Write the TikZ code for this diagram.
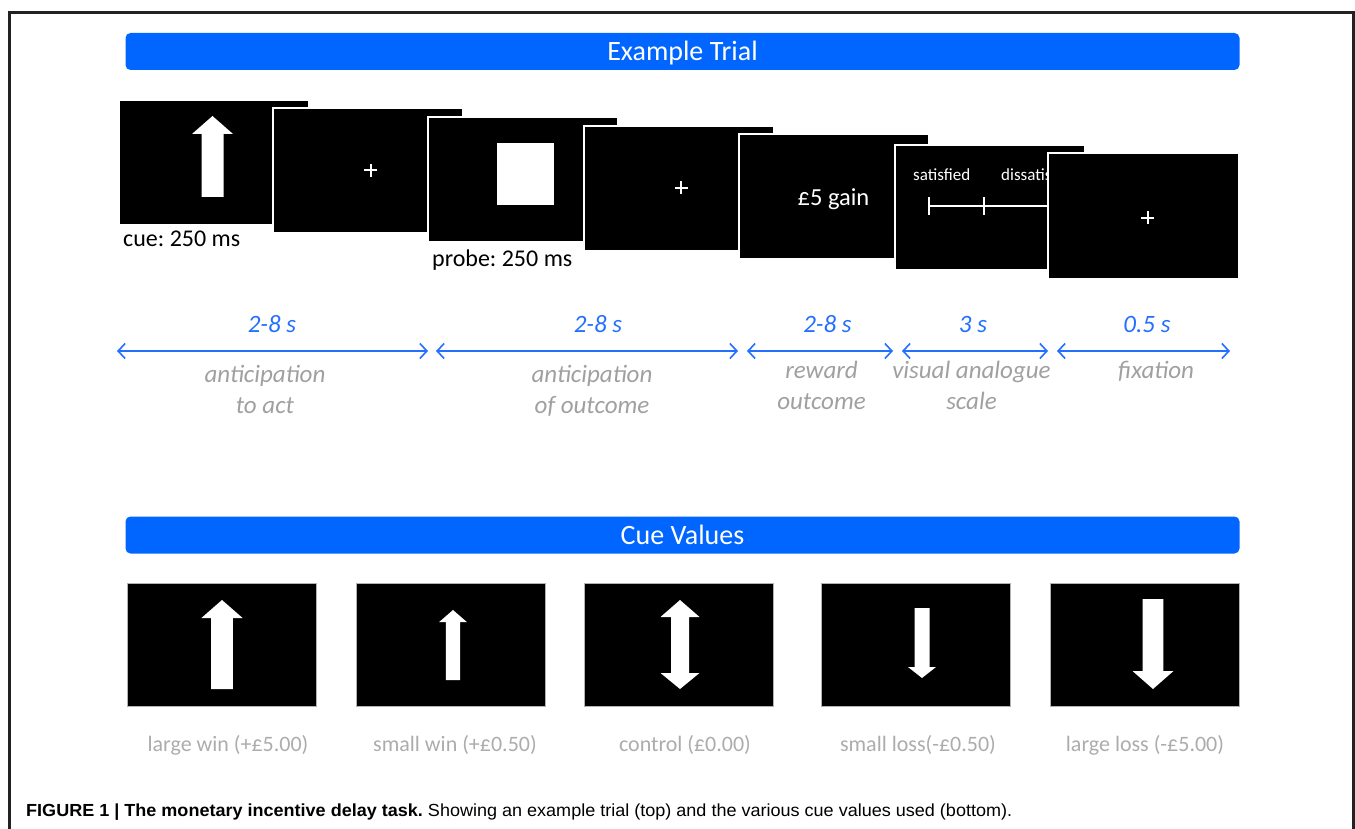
\documentclass[tikz,border=0pt]{standalone}
\usepackage{fontspec}
\usepackage{graphicx}
\setmainfont{Carlito}
\newfontfamily\capfont{Liberation Sans}
\usetikzlibrary{arrows.meta}
\definecolor{mblue}{RGB}{0,102,255}
\definecolor{tblue}{RGB}{35,112,255}
\definecolor{lgray}{RGB}{160,160,160}
\definecolor{cgray}{RGB}{172,172,172}
\definecolor{framecol}{RGB}{34,34,34}
\newcommand\arrowshape[6]{% cx, tip, base, end, headhalf, shafthalf
  \fill[white] ({#1},{#2}) -- ({#1+#5},{#3}) -- ({#1+#6},{#3}) -- ({#1+#6},{#4})
    -- ({#1-#6},{#4}) -- ({#1-#6},{#3}) -- ({#1-#5},{#3}) -- cycle;}
\newcommand\plussign[2]{\draw[white,line width=2pt] ({#1-6.5},{#2}) -- ({#1+6.5},{#2}) ({#1},{#2-6.5}) -- ({#1},{#2+6.5});}
\newsavebox\capbox
\frenchspacing
\begin{document}
\sbox\capbox{\capfont\fontsize{17.5}{20}\selectfont\textbf{FIGURE 1 | The monetary incentive delay task.} Showing an example trial (top) and the various cue values used (bottom).}
\begin{tikzpicture}[x=1pt,y=-1pt,
  banner/.style={fill=mblue,rounded corners=5pt,minimum width=1114pt,minimum height=37pt,inner sep=0pt,text=white,font=\fontsize{28}{30}\selectfont},
  tscreen/.style={fill=black,draw=white,line width=2pt,anchor=north west,minimum width=190pt,minimum height=125pt,inner sep=0pt},
  cscreen/.style={fill=black,draw=gray!60,line width=0.8pt,anchor=north west,minimum width=189pt,minimum height=123pt,inner sep=0pt},
  blk/.style={text=black,font=\fontsize{24}{26}\selectfont,inner sep=0pt},
  dur/.style={text=tblue,font=\fontsize{25}{27}\selectfont\itshape,inner sep=0pt},
  phase/.style={text=lgray,font=\fontsize{25}{31}\selectfont\itshape,inner sep=0pt,align=center},
  cuelab/.style={text=cgray,font=\fontsize{22}{24}\selectfont,inner sep=0pt},
  tline/.style={draw=tblue,line width=1.6pt,{Straight Barb[length=7pt,width=15pt]}-{Straight Barb[length=7pt,width=15pt]}}
]
\useasboundingbox (0,0) rectangle (1355,829);
\draw[framecol,line width=2.5pt] (9.5,829) -- (9.5,12.5) -- (1353.5,12.5) -- (1353.5,829);

% banners
\node[banner,text height=21pt,text depth=2pt] (b1) at (682.5,51.5) {Example Trial};
\node[banner] (b2) at (682.5,535) {Cue Values};

% trial screens
\node[tscreen] (s1) at (118,99) {};
\arrowshape{212.5}{116}{134}{197}{20.5}{11}
\node[tscreen] (s2) at (272,107) {};
\plussign{370.5}{170.5}
\node[blk,anchor=base west] (cue) at (123,247) {cue: 250 ms};
\node[tscreen] (s3) at (427,116) {};
\fill[white] (497,143) rectangle (554,205);
\node[blk,anchor=base west] (probe) at (432,266) {probe: 250 ms};
\node[tscreen] (s4) at (583,125) {};
\plussign{681}{188}
\node[tscreen] (s5) at (738,133) {};
\node[text=white,font=\fontsize{24.5}{26}\selectfont,inner sep=0pt] (gain) at (833.5,199) {£5 gain};
\node[tscreen] (s6) at (894,144) {};
\node[text=white,font=\fontsize{17}{19}\selectfont,inner sep=0pt,anchor=base west] (sat) at (913,181) {satisfied};
\node[text=white,font=\fontsize{17}{19}\selectfont,inner sep=0pt,anchor=base west] (dis) at (1001,181) {dissatisfied};
\draw[white,line width=1.5pt] (929,206) -- (1070,206) (929,197.5) -- (929,215.5) (984,197.5) -- (984,215.5);
\node[tscreen,minimum width=191pt,minimum height=126pt] (s7) at (1047,152) {};
\plussign{1147.5}{218}

% timeline
\coordinate (t0) at (117,351); \coordinate (t1) at (428,351);
\coordinate (t2) at (436,351); \coordinate (t3) at (738,351);
\coordinate (t4) at (747,351); \coordinate (t5) at (893,351);
\coordinate (t6) at (902,351); \coordinate (t7) at (1048,351);
\coordinate (t8) at (1057,351); \coordinate (t9) at (1230,351);
\draw[tline] (t0) -- (t1);
\draw[tline] (t2) -- (t3);
\draw[tline] (t4) -- (t5);
\draw[tline] (t6) -- (t7);
\draw[tline] (t8) -- (t9);
\node[dur] (d1) at (272,324) {2-8 s};
\node[dur] (d2) at (598,324) {2-8 s};
\node[dur] (d3) at (827.5,324) {2-8 s};
\node[dur] (d4) at (973,324) {3 s};
\node[dur] (d5) at (1147,324) {0.5 s};
\node[phase,anchor=north] (p1) at (265,365) {anticipation\\to act};
\node[phase,anchor=north] (p2) at (592,365) {anticipation\\of outcome};
\node[phase,anchor=north] (p3) at (821.5,361) {reward\\outcome};
\node[phase,anchor=north] (p4) at (971.5,361) {visual analogue\\scale};
\node[phase,anchor=north] (p5) at (1156,361) {fixation};

% cue value screens
\node[cscreen] (c1) at (127,583) {};
\arrowshape{222}{600}{618}{689}{20.6}{10.8}
\node[cscreen] (c2) at (356,583) {};
\arrowshape{453}{610}{622}{680}{13.8}{7.1}
\node[cscreen] (c3) at (584,583) {};
\fill[white] (680,600) -- (699.5,617) -- (689,617) -- (689,673) -- (699.5,673) -- (680,689)
  -- (660.5,673) -- (671,673) -- (671,617) -- (660.5,617) -- cycle;
\node[cscreen] (c4) at (821,583) {};
\arrowshape{922}{678}{667}{608}{14}{7.5}
\node[cscreen] (c5) at (1050,583) {};
\arrowshape{1153}{689}{671}{599}{20.5}{10.4}

\node[cuelab] (l1) at (228,745) {large win (+£5.00)};
\node[cuelab] (l2) at (455,745) {small win (+£0.50)};
\node[cuelab] (l3) at (685,745) {control (£0.00)};
\node[cuelab] (l4) at (918,745) {small loss(-£0.50)};
\node[cuelab] (l5) at (1145,745) {large loss (-£5.00)};

% caption
\node[anchor=west,inner sep=0pt] (cap) at (26,812) {\resizebox{986pt}{\height}{\usebox\capbox}};
\end{tikzpicture}
\end{document}
